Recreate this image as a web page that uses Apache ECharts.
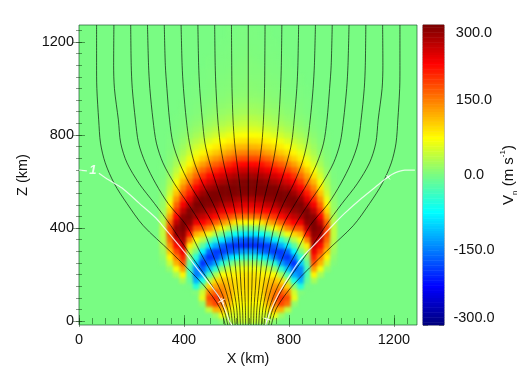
<!DOCTYPE html>
<html><head><meta charset="utf-8">
<script src="https://cdn.jsdelivr.net/npm/echarts@6/dist/echarts.min.js"></script>
<style>
html,body{margin:0;padding:0;background:#fff;width:525px;height:375px;overflow:hidden}
#field{position:absolute;left:79px;top:25px;width:338px;height:300px;overflow:hidden;background:#79fc83}
#fieldChart{position:absolute;left:-79px;top:-25px;width:525px;height:375px;filter:blur(1.4px)}
#main{position:absolute;left:0;top:0;width:525px;height:375px}
</style></head><body>
<div id="field"><div id="fieldChart"></div></div>
<div id="main"></div>
<script>
// Velocity field Vn (m/s): one list per distance from the fan axis, values from Z=0 upwards in 25 km steps
const fieldAxisX = 645;
const columnOffsets = [0,25,50,75,100,125,150,175,200,225,250,275,300,325];
const col0 = [45,55,65,75,85,90,95,95,90,70,30,-45,-130,-200,-175,-90,-5,75,155,210,240,270,295,305,298,280,255,225,185,150,120,95,75,58,45,35,25,20,15,12,10,9,7,6,6,5,4,3,3,2,2];
const col25 = [45,55,67,77,86,91,95,95,88,66,25,-50,-135,-200,-170,-85,-2,78,158,212,243,272,296,305,297,278,253,222,183,148,118,93,73,56,43,33,24,19,14,11,9,8,6,5,5,4,3,3,2,2,2];
const col50 = [42,52,66,78,88,93,96,93,82,56,10,-75,-160,-198,-155,-70,12,90,165,218,250,278,298,304,293,272,245,215,178,143,114,90,70,53,40,30,22,17,13,10,8,7,6,5,4,3,3,2,2,1,1];
const col75 = [30,50,85,110,125,125,115,103,80,45,-15,-100,-175,-190,-125,-45,40,120,180,225,262,288,302,300,285,262,232,200,165,132,105,83,63,47,35,26,19,14,11,9,7,6,5,4,3,3,2,2,1,1,1];
const col100 = [10,70,120,150,160,150,135,110,75,20,-50,-150,-190,-165,-85,-5,70,140,195,238,268,292,304,298,275,250,218,185,150,120,95,75,56,41,30,22,16,12,9,7,6,5,4,3,3,2,2,1,1];
const col125 = [0,20,120,185,195,170,130,95,30,-45,-130,-185,-190,-125,-50,25,105,170,220,255,285,300,302,285,262,235,203,170,137,108,85,66,48,35,25,18,13,10,7,6,5,4,3,3,2,2,1,1];
const col150 = [0,0,40,160,180,150,100,35,-30,-110,-165,-195,-165,-85,-10,65,145,200,240,268,292,302,298,275,248,220,188,155,122,95,74,56,40,28,20,14,10,7,5,4,3,3,2,2,1,1];
const col175 = [0,0,0,15,60,50,10,-60,-125,-165,-195,-150,-80,-20,35,100,175,225,260,285,300,302,282,255,225,195,165,132,102,80,60,44,31,22,15,10,7,5,4,3,2,2,1,1];
const col200 = [0,0,0,0,0,5,-55,-120,-150,-145,-105,-50,0,35,70,120,180,235,275,295,303,285,255,225,195,165,138,108,84,64,48,35,25,17,12,8,5,4,3,2,2,1,1];
const col225 = [0,0,0,0,0,0,-2,-15,-30,-35,-15,10,40,85,150,210,260,290,302,298,270,240,210,185,155,130,105,80,62,46,34,25,17,12,8,5,3,2,2,1,1];
const col250 = [0,0,0,0,0,0,0,25,80,130,175,205,235,255,275,290,300,302,290,262,230,200,172,145,118,92,70,52,38,28,20,14,10,6,4,3,2,1];
const col275 = [0,0,0,0,0,0,0,0,25,70,120,150,185,220,255,285,288,262,225,198,168,138,110,88,70,52,38,27,19,13,9,6,4,3,2,1];
const col300 = [0,0,0,0,0,0,0,0,0,15,45,80,110,140,165,185,185,165,130,100,80,63,48,37,28,20,15,10,7,5,3,2,1];
const col325 = [0,0,0,0,0,0,0,0,0,0,5,12,20,28,35,40,40,35,28,22,17,13,10,7,5,3,2,1];
const fieldColumns = [col0,col25,col50,col75,col100,col125,col150,col175,col200,col225,col250,col275,col300,col325];
const rowCount = 51;

// Field lines: distance (km) from the fan axis at each height, mirrored to both sides
const lineHeights = [1273,1100,1000,865,765,680,590,505,410,300,155,56,-17];
const lineK1 = [64,63,62,58,52,43,33,25,20,17,14,11,10];
const lineK2 = [128,126,123,116,107,94,75,57,42,35,28,22,20];
const lineK3 = [192,189,185,175,165,147,122,96,68,55,42,33,30];
const lineK4 = [256,252,247,236,224,205,173,134,100,80,58,44,40];
const lineK5 = [320,316,310,300,287,262,224,179,132,105,74,56,50];
const lineK6 = [384,380,375,363,350,325,281,230,178,140,92,68,60];
const lineK7 = [448,446,442,430,418,392,352,305,235,185,115,80,69];
const lineK8 = [512,513,510,495,486,462,415,357,295,230,140,95,78];
const lineK9 = [578,578,577,570,563,545,510,462,400,298,171,108,88];
const fieldLines = [lineK1,lineK2,lineK3,lineK4,lineK5,lineK6,lineK7,lineK8,lineK9];
const centreLine = [[645,1273],[645,-17]];

// White contour and its small tick marks
const contourA = [[0,649],[30,646]];
const contourB = [[76,636],[114,606],[164,572],[229,507],[293,443],[316,413],[358,357],[411,284],[461,211],[510,142],[545,82],[575,-4],[583,-17]];
const contourC = [[712,-17],[728,39],[758,112],[792,176],[842,262],[907,340],[968,413],[1013,464],[1078,529],[1139,585],[1177,619],[1204,637],[1242,649],[1280,649]];
const contourTicks = [[[531,80],[556,95]],[[543,100],[552,72]],[[704,13],[731,4]],[[716,8],[714,-6]],[[1172,628],[1185,609]],[[1170,612],[1186,625]]];
const contourLabel = [[53,646]];

// Axes
const xRange = [0,1288];
const zRange = [-17,1273];
const majorX = [0,400,800,1200];
const majorZ = [0,400,800,1200];
const minorX = [0,50,100,150,200,250,300,350,400,450,500,550,600,650,700,750,800,850,900,950,1000,1050,1100,1150,1200,1250];
const minorZ = minorX;
const barTicks = [-300,-150,0,150,300];
const jet = ['#00007f','#0000ff','#007fff','#00ffff','#79fc83','#ffff00','#ff7f00','#ff0000','#7f0000'];
const barLevels = [];
for (let v=-300; v<=300; v+=5) barLevels.push(v);

const FONT = '"Liberation Sans",Arial,sans-serif';
const TICK = 'rgba(0,40,0,0.45)';

// field chart (under the axes, softened like the original raster)
const heatData = [];
const half = columnOffsets.length-1;
fieldColumns.forEach((col,c)=>{
  col.forEach((v,r)=>{
    if (v===0) return;
    heatData.push([half+c,r,v]);
    if (c>0) heatData.push([half-c,r,v]);
  });
});
const cats = n => Array.from({length:n},(_,i)=>i);
const fieldChart = echarts.init(document.getElementById('fieldChart'),null,{renderer:'canvas'});
fieldChart.setOption({
  animation:false,
  grid:{left:79+0.2625*(fieldAxisX-337.5),width:0.2625*675,top:27.5,height:296.4},
  xAxis:{type:'category',data:cats(2*half+1),show:false},
  yAxis:{type:'category',data:cats(rowCount),show:false},
  visualMap:{show:false,min:-300,max:300,inRange:{color:jet},seriesIndex:0},
  series:[{type:'heatmap',data:heatData,progressive:0,itemStyle:{borderWidth:0}}]
});

function ax(dim,pos,values,len,range,extra){
  return Object.assign({type:'value',gridIndex:0,position:pos,min:range[0],max:range[1],
    axisLine:{show:false},splitLine:{show:false},
    axisTick:{show:true,inside:true,length:len,customValues:values,lineStyle:{color:TICK,width:1}},
    axisLabel:{show:false}},extra||{});
}
const plain = v=>String(v);
const labelX = {show:true,customValues:majorX,color:'#111',fontSize:14.5,fontFamily:FONT,margin:7,formatter:plain};
const labelZ = {show:true,customValues:majorZ,color:'#111',fontSize:14.5,fontFamily:FONT,margin:5,formatter:plain};
const xAxes = [
  ax('x','bottom',majorX,6,xRange,{axisLabel:labelX,name:'X (km)',nameLocation:'middle',nameGap:26,nameTextStyle:{color:'#111',fontSize:14.5,fontFamily:FONT}}),
  ax('x','bottom',minorX,3,xRange),
  ax('x','top',majorX,6,xRange),
  ax('x','top',minorX,3,xRange),
  {type:'category',gridIndex:1,data:[''],show:false}
];
const yAxes = [
  ax('y','left',majorZ,6,zRange,{axisLabel:labelZ,name:'Z (km)',nameLocation:'middle',nameGap:44,nameRotate:90,nameTextStyle:{color:'#111',fontSize:14.5,fontFamily:FONT}}),
  ax('y','left',minorZ,3,zRange),
  ax('y','right',majorZ,6,zRange),
  ax('y','right',minorZ,3,zRange),
  {type:'category',gridIndex:1,data:barLevels,show:false},
  {type:'value',gridIndex:1,position:'right',min:-300,max:300,axisLine:{show:false},splitLine:{show:false},
   axisTick:{show:true,inside:true,length:5,customValues:barTicks,lineStyle:{color:'rgba(0,0,0,0.4)'}},
   axisLabel:{show:true,customValues:barTicks,color:'#111',fontSize:14.5,fontFamily:FONT,align:'center',margin:30,
     verticalAlignMinLabel:'bottom',verticalAlignMaxLabel:'top',formatter:v=>v.toFixed(1)},
   name:'{a|V}{b|n}{a| (m s}{c|-1}{a|)}',nameLocation:'middle',nameGap:52,nameRotate:90,
   nameTextStyle:{rich:{a:{color:'#111',fontSize:15,fontFamily:FONT,lineHeight:20},
     b:{color:'#111',fontSize:8,fontFamily:FONT,verticalAlign:'bottom',lineHeight:20},
     c:{color:'#111',fontSize:8,fontFamily:FONT,verticalAlign:'top',lineHeight:20}}}},
  {type:'value',gridIndex:1,position:'left',min:-300,max:300,axisLine:{show:false},splitLine:{show:false},
   axisTick:{show:true,inside:true,length:5,customValues:barTicks,lineStyle:{color:'rgba(0,0,0,0.4)'}},axisLabel:{show:false}}
];

const blackStyle = {color:'#000',width:0.8,opacity:0.8};
const lineSeries = (data,style,smooth=0.3)=>({type:'line',xAxisIndex:0,yAxisIndex:0,data,showSymbol:false,symbol:'none',smooth,smoothMonotone:'none',lineStyle:style,silent:true,animation:false,z:5});
const series = [{type:'heatmap',xAxisIndex:4,yAxisIndex:4,data:barLevels.map((v,i)=>[0,i,v]),progressive:0,itemStyle:{borderWidth:0}}];
series.push(lineSeries(centreLine,blackStyle,false));
fieldLines.forEach(l=>{
  series.push(lineSeries(l.map((d,i)=>[fieldAxisX-d,lineHeights[i]]),blackStyle));
  series.push(lineSeries(l.map((d,i)=>[fieldAxisX+d,lineHeights[i]]),blackStyle));
});
const whiteStyle = {color:'#fff',width:1.2,opacity:0.8};
series.push(lineSeries(contourA,whiteStyle),lineSeries(contourB,whiteStyle),lineSeries(contourC,whiteStyle));
contourTicks.forEach(t=>series.push(lineSeries(t,{color:'#fff',width:1,opacity:0.9},false)));
series.push({type:'scatter',xAxisIndex:0,yAxisIndex:0,data:contourLabel,symbolSize:0,silent:true,z:6,
  label:{show:true,position:'inside',formatter:'1',color:'#fff',fontSize:13,fontStyle:'italic',fontWeight:'bold',fontFamily:FONT,opacity:0.85}});

const chart = echarts.init(document.getElementById('main'),null,{renderer:'canvas'});
chart.setOption({
  animation:false,backgroundColor:'transparent',
  grid:[
    {left:79,top:25,width:338,height:300,show:true,borderColor:'rgba(30,90,50,0.7)',borderWidth:1,backgroundColor:'transparent'},
    {left:423,top:25,width:21,height:300,show:true,borderColor:'rgba(40,40,40,0.65)',borderWidth:1,backgroundColor:'transparent'}
  ],
  xAxis:xAxes,yAxis:yAxes,
  visualMap:{show:false,min:-300,max:300,inRange:{color:jet},seriesIndex:0},
  series
});
</script></body></html>
